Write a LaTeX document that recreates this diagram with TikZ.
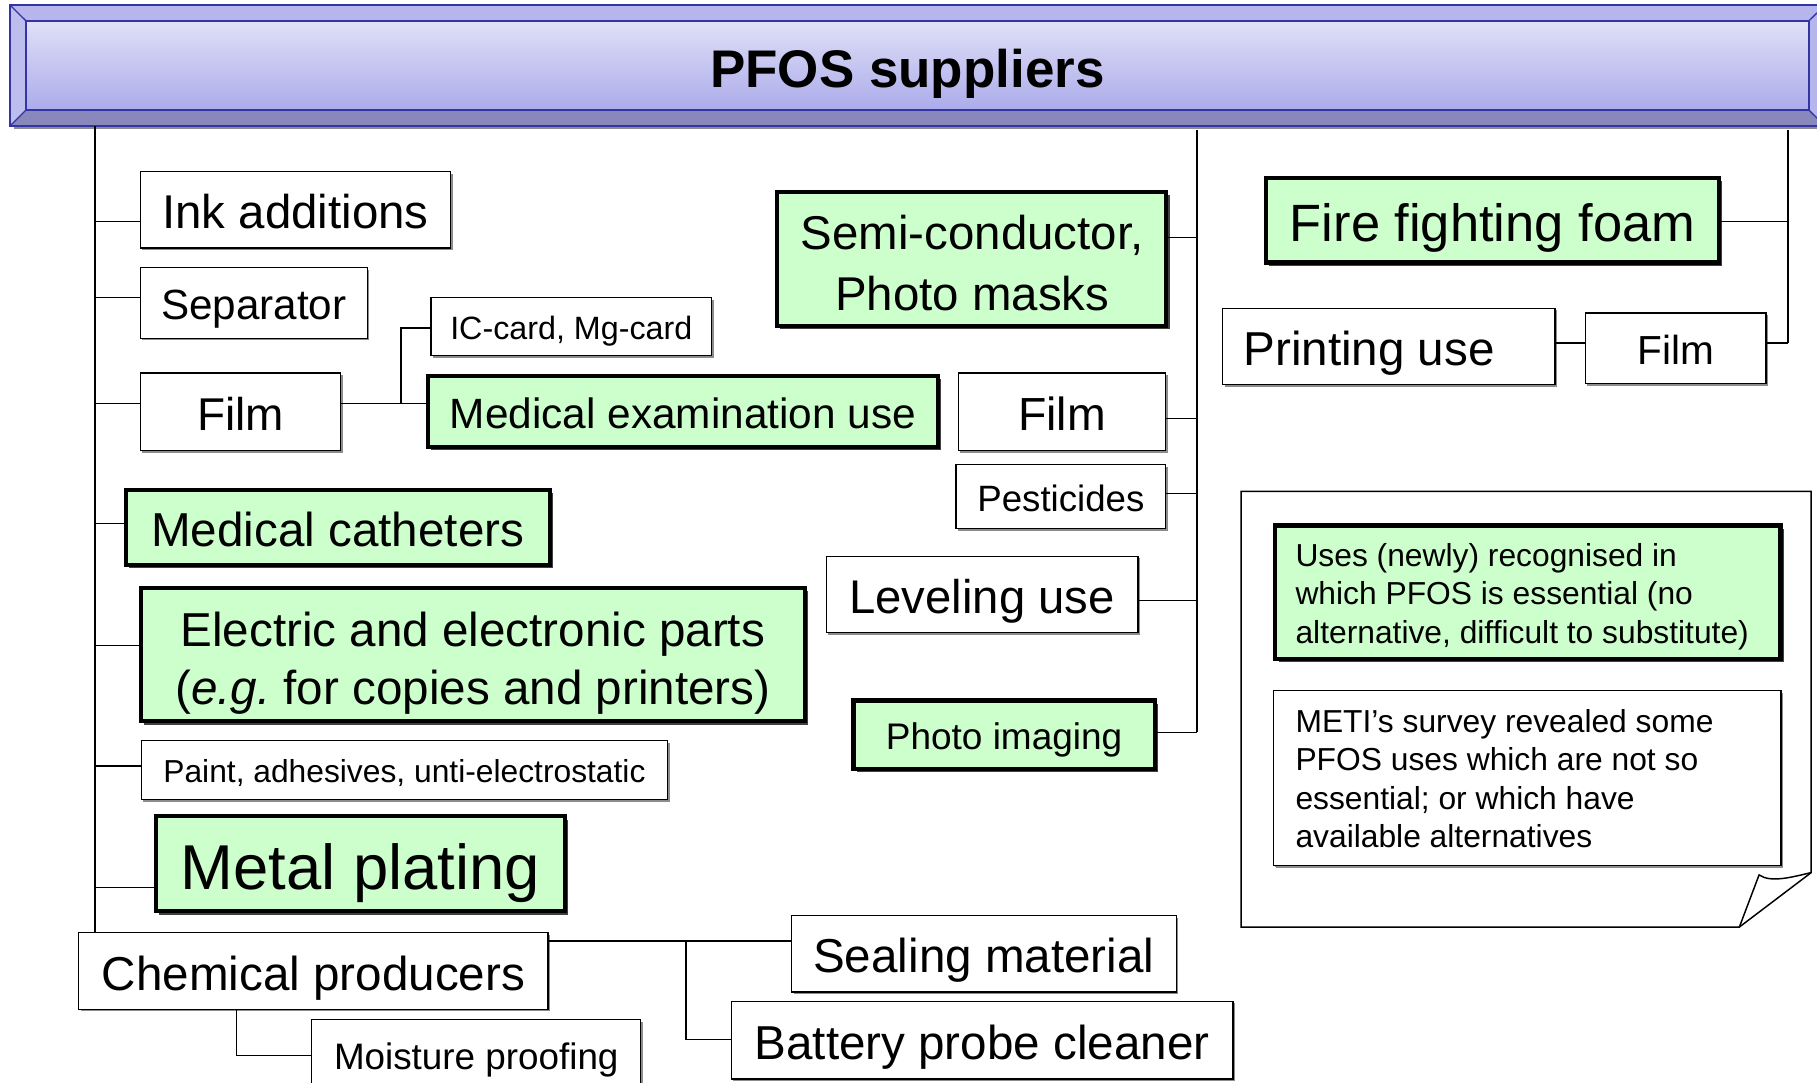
\documentclass[tikz,border=0pt]{standalone}
\usepackage{fontspec}
\setmainfont{Liberation Sans}
\usetikzlibrary{shadows}
\newdimen\pxu
\pxu=0.025cm
\definecolor{gfill}{HTML}{CCFFCC}
\definecolor{tbborder}{HTML}{3434A4}
\definecolor{tbtop}{HTML}{B6B6EC}
\definecolor{tbbot}{HTML}{8888BC}
\definecolor{tbfacetop}{HTML}{E0E0F8}
\definecolor{tbfacebot}{HTML}{ABABEA}
\begin{document}
\begin{tikzpicture}[x=0.025cm, y=-0.025cm,
  geom/.style n args={4}{at={({(#1+#3)/2},{(#2+#4)/2})}, minimum width={(#3-#1)*\pxu}, minimum height={(#4-#2)*\pxu}},
  bxbase/.style={inner sep=0pt, outer sep=0pt, text depth=0pt},
  wbox/.style={bxbase, draw, line width=0.8pt, fill=white, drop shadow={shadow xshift=1.3pt, shadow yshift=-1.3pt, fill=black!45, opacity=1}},
  gbox/.style={bxbase, draw, line width=2.5pt, fill=gfill, drop shadow={shadow xshift=2pt, shadow yshift=-2pt, fill=black!75, opacity=1}},
  fs/.style={font=\fontsize{#1}{#1}\selectfont, text height=#1*0.8pt},
  conn/.style={line width=0.8pt},
  txt/.style={inner sep=0pt, outer sep=0pt, align=#1},
]
\useasboundingbox (0,0) rectangle (1568,934);
\clip (0,0) rectangle (1568,934);

% ---------- title bar ----------
\fill[black!45] (12,106) rectangle (1580,111.5);
\fill[tbtop] (8.6,4.3) -- (1575,4.3) -- (1561,18) -- (22.4,18) -- cycle;
\fill[tbtop!90!white] (8.6,4.3) -- (22.4,18) -- (22.4,95) -- (8.6,108.7) -- cycle;
\fill[tbbot] (22.4,95) -- (1561,95) -- (1575,108.7) -- (8.6,108.7) -- cycle;
\fill[tbtop] (1561,18) -- (1575,4.3) -- (1575,108.7) -- (1561,95) -- cycle;
\shade[top color=tbfacetop, bottom color=tbfacebot] (22.4,18) rectangle (1561,95);
\draw[tbborder, line width=1pt] (8.6,4.3) rectangle (1575,108.7);
\draw[tbborder, line width=1pt] (22.4,18) rectangle (1561,95);
\draw[tbborder, line width=0.8pt] (8.6,4.3) -- (22.4,18) (8.6,108.7) -- (22.4,95) (1575,4.3) -- (1561,18) (1575,108.7) -- (1561,95);
\node[font=\bfseries\fontsize{32.5}{32.5}\selectfont, anchor=base, inner sep=0pt] (title) at (783,75.5) {PFOS suppliers};

% ---------- legend note ----------
\draw[line width=0.9pt, fill=white] (1071,424) -- (1563,424) -- (1563,753) -- (1501,800) -- (1071,800) -- cycle;
\draw[line width=0.9pt] (1501,800) -- (1518,755) .. controls (1528,762) and (1546,757) .. (1563,753);
\node[gbox, geom={1100.5}{453.5}{1536.5}{568.5}] (legA) {};
\node[wbox, drop shadow={shadow xshift=0.8pt, shadow yshift=-0.8pt, fill=black!45, opacity=1}, geom={1099}{596}{1537}{747}] (legB) {};
\node[txt=left, anchor=north west, font=\fontsize{19.5}{23.5}\selectfont] (legAtext) at (1118,469)
  {Uses (newly) recognised in\\which PFOS is essential (no\\alternative, difficult to substitute)};
\node[txt=left, anchor=north west, font=\fontsize{19.5}{23.5}\selectfont] (legBtext) at (1118,612.4)
  {METI’s survey revealed some\\PFOS uses which are not so\\essential; or which have\\available alternatives};

% ---------- left column ----------
\node[wbox, fs=29.1, geom={121}{148}{389}{214}] (ink) {Ink additions};
\node[wbox, fs=25.9, geom={121}{231}{317}{292}] (sep) {Separator};
\node[wbox, fs=28.2, geom={121}{322}{294}{389}] (filmL) {Film};
\node[wbox, fs=19.8, geom={372}{257}{614}{307}] (ic) {IC-card, Mg-card};
\node[gbox, fs=26, geom={369.5}{324.5}{809.5}{385.5}] (medex) {Medical examination use};
\node[gbox, fs=29.2, geom={108.5}{422.5}{474.5}{487.5}] (cath) {Medical catheters};
\node[gbox, geom={121.5}{507.5}{694.5}{622.5}] (elec) {};
\node[txt=center, font=\fontsize{29.2}{35.5}\selectfont] (electext) at (408,572)
  {Electric and electronic parts\\(\textit{e.g.}\ for copies and printers)};
\node[wbox, fs=19.5, geom={122}{639}{576}{690}] (paint) {Paint, adhesives, unti-electrostatic};
\node[gbox, fs=38.9, geom={134.5}{704.5}{487.5}{786.5}] (metal) {Metal plating};

% ---------- middle ----------
\node[gbox, geom={670.5}{165.5}{1006.5}{281.5}] (semi) {};
\node[txt=center, font=\fontsize{29.1}{37}\selectfont] (semitext) at (839,227)
  {Semi-conductor,\\Photo masks};
\node[wbox, fs=28.5, geom={827}{322}{1006}{389}] (filmM) {Film};
\node[wbox, fs=22.5, geom={825}{401}{1006}{456}] (pest) {Pesticides};
\node[wbox, fs=29, geom={713}{480}{982}{546}] (level) {Leveling use};
\node[gbox, fs=22.7, geom={736.5}{604.5}{996.5}{663.5}] (photo) {Photo imaging};

% ---------- right ----------
\node[gbox, fs=32.2, geom={1092.5}{153.5}{1483.5}{226.5}] (fire) {Fire fighting foam};
\node[wbox, fs=29.2, geom={1055}{266}{1342}{332}] (print) {Printing use\hspace*{34\pxu}};
\node[wbox, fs=24.9, geom={1368}{270}{1524}{331}] (filmR) {Film};

% ---------- bottom ----------
\node[wbox, fs=29.2, geom={68}{805}{473}{871}] (cp) {Chemical producers};
\node[wbox, fs=22.6, geom={269}{880}{553}{940}] (moist) {Moisture proofing};
\node[wbox, fs=29.2, geom={683}{790}{1015}{856}] (seal) {Sealing material};
\node[wbox, fs=29.2, geom={631}{864}{1064}{931}] (batt) {Battery probe cleaner};

% ---------- connectors ----------
\coordinate (LT) at (82,109);
\draw[conn] (LT) -- (LT |- cp.north);
\foreach \n/\y in {ink/191, sep/257, filmL/348, cath/452, elec/557, paint/661, metal/766}
  \draw[conn] (82,\y) -- (\n.west |- 0,\y);

\coordinate (MT) at (1033,112);
\draw[conn] (MT) -- (1033,632);
\foreach \n/\y in {semi/205, filmM/361, pest/426, level/518, photo/632}
  \draw[conn] (\n.east |- 0,\y) -- (1033,\y);

\coordinate (RT) at (1543,112);
\draw[conn] (RT) -- (1543,296);
\draw[conn] (fire.east |- 0,191) -- (1543,191);
\draw[conn] (filmR.east |- 0,296) -- (1543,296);
\draw[conn] (print.east |- 0,296) -- (filmR.west |- 0,296);

\draw[conn] (filmL.east |- 0,348) -- (medex.west |- 0,348);
\draw[conn] (346,348) |- (ic.west |- 0,283);

\draw[conn] (cp.east |- 0,812) -- (seal.west |- 0,812);
\draw[conn] (592,812) |- (batt.west |- 0,897);
\draw[conn] (cp.south -| 204,0) |- (moist.west |- 0,911);
\end{tikzpicture}
\end{document}
